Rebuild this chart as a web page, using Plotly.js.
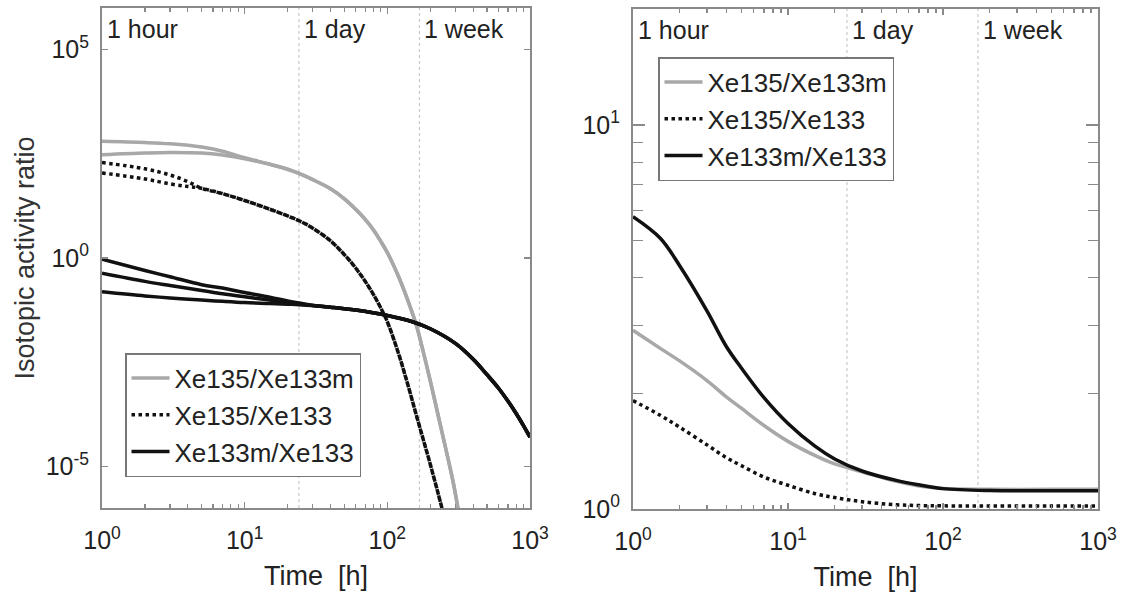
<!DOCTYPE html>
<html>
<head>
<meta charset="utf-8">
<script src="https://cdn.plot.ly/plotly-3.0.1.min.js"></script>
<style>html,body{margin:0;padding:0;background:#fff;}#chart{width:1123px;height:602px;}</style>
</head>
<body>
<div id="chart"></div>
<script>
// ---------- Left panel data ----------
// Xe135/Xe133m : two early branches merging into one tail
const tGreyEarly = [1, 2, 3, 5, 7, 10];
const greyUpperEarly = [630, 590, 550, 460, 365, 255];
const greyLowerEarly = [300, 330, 340, 330, 295, 240];
const tGreyTail = [15, 20, 24, 30, 40, 50, 60, 70, 80, 90, 100, 120, 140, 160, 180, 200, 230, 260, 290, 320];
const greyTail = [178, 135, 107, 76, 46, 26.3, 14.8, 8.5, 4.7, 2.5, 1.35, 0.355, 0.091, 0.024, 5.0e-3, 1.12e-3, 1.38e-4, 2.2e-5, 4.0e-6, 6.3e-7];

// Xe135/Xe133 : two early branches merging
const tDotEarly = [1, 2, 3, 4];
const dotUpperEarly = [195, 138, 98, 68];
const dotLowerEarly = [110, 79, 60, 52];
const tDotTail = [5, 7, 10, 15, 20, 24, 30, 40, 50, 60, 70, 80, 90, 100, 120, 140, 160, 180, 200, 225, 250];
const dotTail = [47, 35, 24, 14.8, 10.2, 7.9, 5.2, 2.57, 1.2, 0.575, 0.275, 0.132, 0.063, 0.0295, 5.0e-3, 8.5e-4, 1.66e-4, 4.0e-5, 1.12e-5, 2.5e-6, 6.3e-7];

// Xe133m/Xe133 : three early branches merging
const tSolidEarly = [1, 2, 3, 5, 7, 10, 15, 20, 24];
const solidTopEarly = [0.93, 0.50, 0.355, 0.229, 0.19, 0.148, 0.115, 0.093, 0.083];
const solidMidEarly = [0.43, 0.275, 0.219, 0.166, 0.138, 0.117, 0.098, 0.085, 0.079];
const solidLowEarly = [0.155, 0.123, 0.110, 0.098, 0.091, 0.085, 0.081, 0.078, 0.076];
const tSolidTail = [30, 40, 60, 100, 150, 200, 300, 400, 500, 600, 700, 800, 900, 1000];
const solidTail = [0.0724, 0.066, 0.0562, 0.0417, 0.0295, 0.020, 8.9e-3, 3.7e-3, 1.58e-3, 7.6e-4, 3.7e-4, 1.86e-4, 9.5e-5, 5.0e-5];

// ---------- Right panel data ----------
const tRight = [1, 1.5, 2, 3, 4, 5, 7, 10, 15, 20, 30, 50, 70, 100, 200, 500, 1000];
const rightGrey = [2.92, 2.62, 2.43, 2.16, 1.96, 1.83, 1.65, 1.50, 1.377, 1.31, 1.25, 1.18, 1.148, 1.13, 1.125, 1.125, 1.125];
const rightDot = [1.915, 1.754, 1.633, 1.469, 1.361, 1.297, 1.211, 1.153, 1.096, 1.071, 1.045, 1.026, 1.021, 1.019, 1.018, 1.018, 1.018];
const rightSolid = [5.77, 5.07, 4.3, 3.28, 2.65, 2.33, 1.95, 1.67, 1.455, 1.35, 1.256, 1.187, 1.156, 1.13, 1.117, 1.116, 1.116];

// ---------- Labels ----------
const seriesNames = ['Xe135/Xe133m', 'Xe135/Xe133', 'Xe133m/Xe133'];
const markerTimes = [1, 24, 168];
const markerLabels = ['1 hour', '1 day', '1 week'];
const xTickVals = [1, 10, 100, 1000];
const xTickText = ['10<sup>0</sup>', '10<sup>1</sup>', '10<sup>2</sup>', '10<sup>3</sup>'];
const yLeftTickVals = [1e-5, 1, 1e5];
const yLeftTickText = ['10<sup>-5</sup>', '10<sup>0</sup>', '10<sup>5</sup>'];
const yRightTickVals = [1, 10];
const yRightTickText = ['10<sup>0</sup>', '10<sup>1</sup>'];

const FONT = 'Liberation Sans, Arial, Helvetica, sans-serif';
const GREY = '#a8a8a8';
const BLACK = '#111';

const styles = {
  grey: {color: GREY, width: 3.5, dash: 'solid'},
  dot: {color: BLACK, width: 3.5, dash: 'dot'},
  solid: {color: BLACK, width: 3.5, dash: 'solid'}
};

function tr(x, y, style, name, show, xa, ya, legend) {
  return {x: x, y: y, type: 'scatter', mode: 'lines', name: name, showlegend: show,
    legend: legend, xaxis: xa, yaxis: ya, line: Object.assign({shape: 'spline', smoothing: 1}, style),
    hoverinfo: 'x+y+name'};
}

const traces = [];
// vertical marker lines (1 day, 1 week) for both panels
[['x', 'y', [1e-6, 1e6]], ['x2', 'y2', [1, 20.05]]].forEach(([xa, ya, yr]) => {
  markerTimes.slice(1).forEach(t => {
    traces.push({x: [t, t], y: yr, type: 'scatter', mode: 'lines', showlegend: false,
      xaxis: xa, yaxis: ya, hoverinfo: 'skip', line: {color: '#c8c8c8', width: 1.2, dash: 'dot'}});
  });
});

// Left panel
traces.push(tr(tGreyEarly.concat(tGreyTail), greyUpperEarly.concat(greyTail), styles.grey, seriesNames[0], true, 'x', 'y', 'legend'));
traces.push(tr(tGreyEarly.concat(tGreyTail), greyLowerEarly.concat(greyTail), styles.grey, seriesNames[0], false, 'x', 'y', 'legend'));
traces.push(tr(tDotEarly.concat(tDotTail), dotUpperEarly.concat(dotTail), styles.dot, seriesNames[1], true, 'x', 'y', 'legend'));
traces.push(tr(tDotEarly.concat(tDotTail), dotLowerEarly.concat(dotTail), styles.dot, seriesNames[1], false, 'x', 'y', 'legend'));
traces.push(tr(tSolidEarly.concat(tSolidTail), solidTopEarly.concat(solidTail), styles.solid, seriesNames[2], true, 'x', 'y', 'legend'));
traces.push(tr(tSolidEarly.concat(tSolidTail), solidMidEarly.concat(solidTail), styles.solid, seriesNames[2], false, 'x', 'y', 'legend'));
traces.push(tr(tSolidEarly.concat(tSolidTail), solidLowEarly.concat(solidTail), styles.solid, seriesNames[2], false, 'x', 'y', 'legend'));

// Right panel
traces.push(tr(tRight, rightGrey, styles.grey, seriesNames[0], true, 'x2', 'y2', 'legend2'));
traces.push(tr(tRight, rightDot, styles.dot, seriesNames[1], true, 'x2', 'y2', 'legend2'));
traces.push(tr(tRight, rightSolid, styles.solid, seriesNames[2], true, 'x2', 'y2', 'legend2'));

const minorVals = [];
for (let d = 1; d <= 100; d *= 10) for (let k = 2; k <= 9; k++) minorVals.push(k * d);
const minorY2 = [2, 3, 4, 5, 6, 7, 8, 9];

const W = 1123, H = 602;
const axisCommon = {
  type: 'log', showgrid: false, zeroline: false, linecolor: '#8a8a8a', linewidth: 2,
  mirror: 'allticks', ticks: 'inside', ticklen: 6, tickwidth: 1.5, tickcolor: '#8a8a8a',
  tickfont: {family: FONT, size: 25, color: '#222'}, tickmode: 'array', showline: true
};
const minorCommon = {ticks: 'inside', ticklen: 4, tickwidth: 1.2, tickcolor: '#8a8a8a', showgrid: false};

const xTitle = {text: 'Time  [h]', font: {family: FONT, size: 27, color: '#222'}, standoff: 13};

const legendCommon = {
  xanchor: 'left', yanchor: 'top', xref: 'paper', yref: 'paper',
  bgcolor: '#fff', bordercolor: '#777', borderwidth: 1.5,
  font: {family: FONT, size: 26, color: '#222'}, traceorder: 'normal', itemwidth: 38
};

const layout = {
  width: W, height: H, autosize: false,
  margin: {l: 0, r: 0, t: 0, b: 0},
  paper_bgcolor: '#fff', plot_bgcolor: '#fff',
  font: {family: FONT, color: '#222'},
  xaxis: Object.assign({}, axisCommon, {
    domain: [102 / W, 530 / W], anchor: 'y', range: [0, 3],
    tickvals: xTickVals, ticktext: xTickText, ticklabelstandoff: 9,
    minor: Object.assign({tickmode: 'array', tickvals: minorVals}, minorCommon),
    title: xTitle
  }),
  yaxis: Object.assign({}, axisCommon, {
    domain: [1 - 508 / H, 1 - 8 / H], anchor: 'x', range: [-6, 6],
    tickvals: yLeftTickVals, ticktext: yLeftTickText, ticklabelstandoff: 6,
    title: {text: 'Isotopic activity ratio', font: {family: FONT, size: 27, color: '#333'}, standoff: 3}
  }),
  xaxis2: Object.assign({}, axisCommon, {
    domain: [633 / W, 1098 / W], anchor: 'y2', range: [0, 3],
    tickvals: xTickVals, ticktext: xTickText, ticklabelstandoff: 9,
    minor: Object.assign({tickmode: 'array', tickvals: minorVals}, minorCommon),
    title: xTitle
  }),
  yaxis2: Object.assign({}, axisCommon, {
    domain: [1 - 509 / H, 1 - 9 / H], anchor: 'x2', range: [0, 1.302],
    tickvals: yRightTickVals, ticktext: yRightTickText, ticklabelstandoff: 6, ticklen: 12,
    minor: Object.assign({tickmode: 'array', tickvals: minorY2}, minorCommon, {ticklen: 10})
  }),
  legend: Object.assign({}, legendCommon, {x: 125 / W, y: 1 - 353 / H}),
  legend2: Object.assign({}, legendCommon, {x: 658 / W, y: 1 - 57 / H}),
  annotations: []
};

[['x', 'y'], ['x2', 'y2']].forEach(([xa, ya]) => {
  markerTimes.forEach((t, i) => {
    layout.annotations.push({
      xref: xa, yref: ya + ' domain', x: Math.log10(t), y: 1 - 21 / 500,
      xanchor: 'left', yanchor: 'middle', xshift: 3, showarrow: false,
      text: markerLabels[i], font: {family: FONT, size: 25, color: '#222'}
    });
  });
});

Plotly.newPlot('chart', traces, layout, {displayModeBar: false, staticPlot: true});
</script>
</body>
</html>
